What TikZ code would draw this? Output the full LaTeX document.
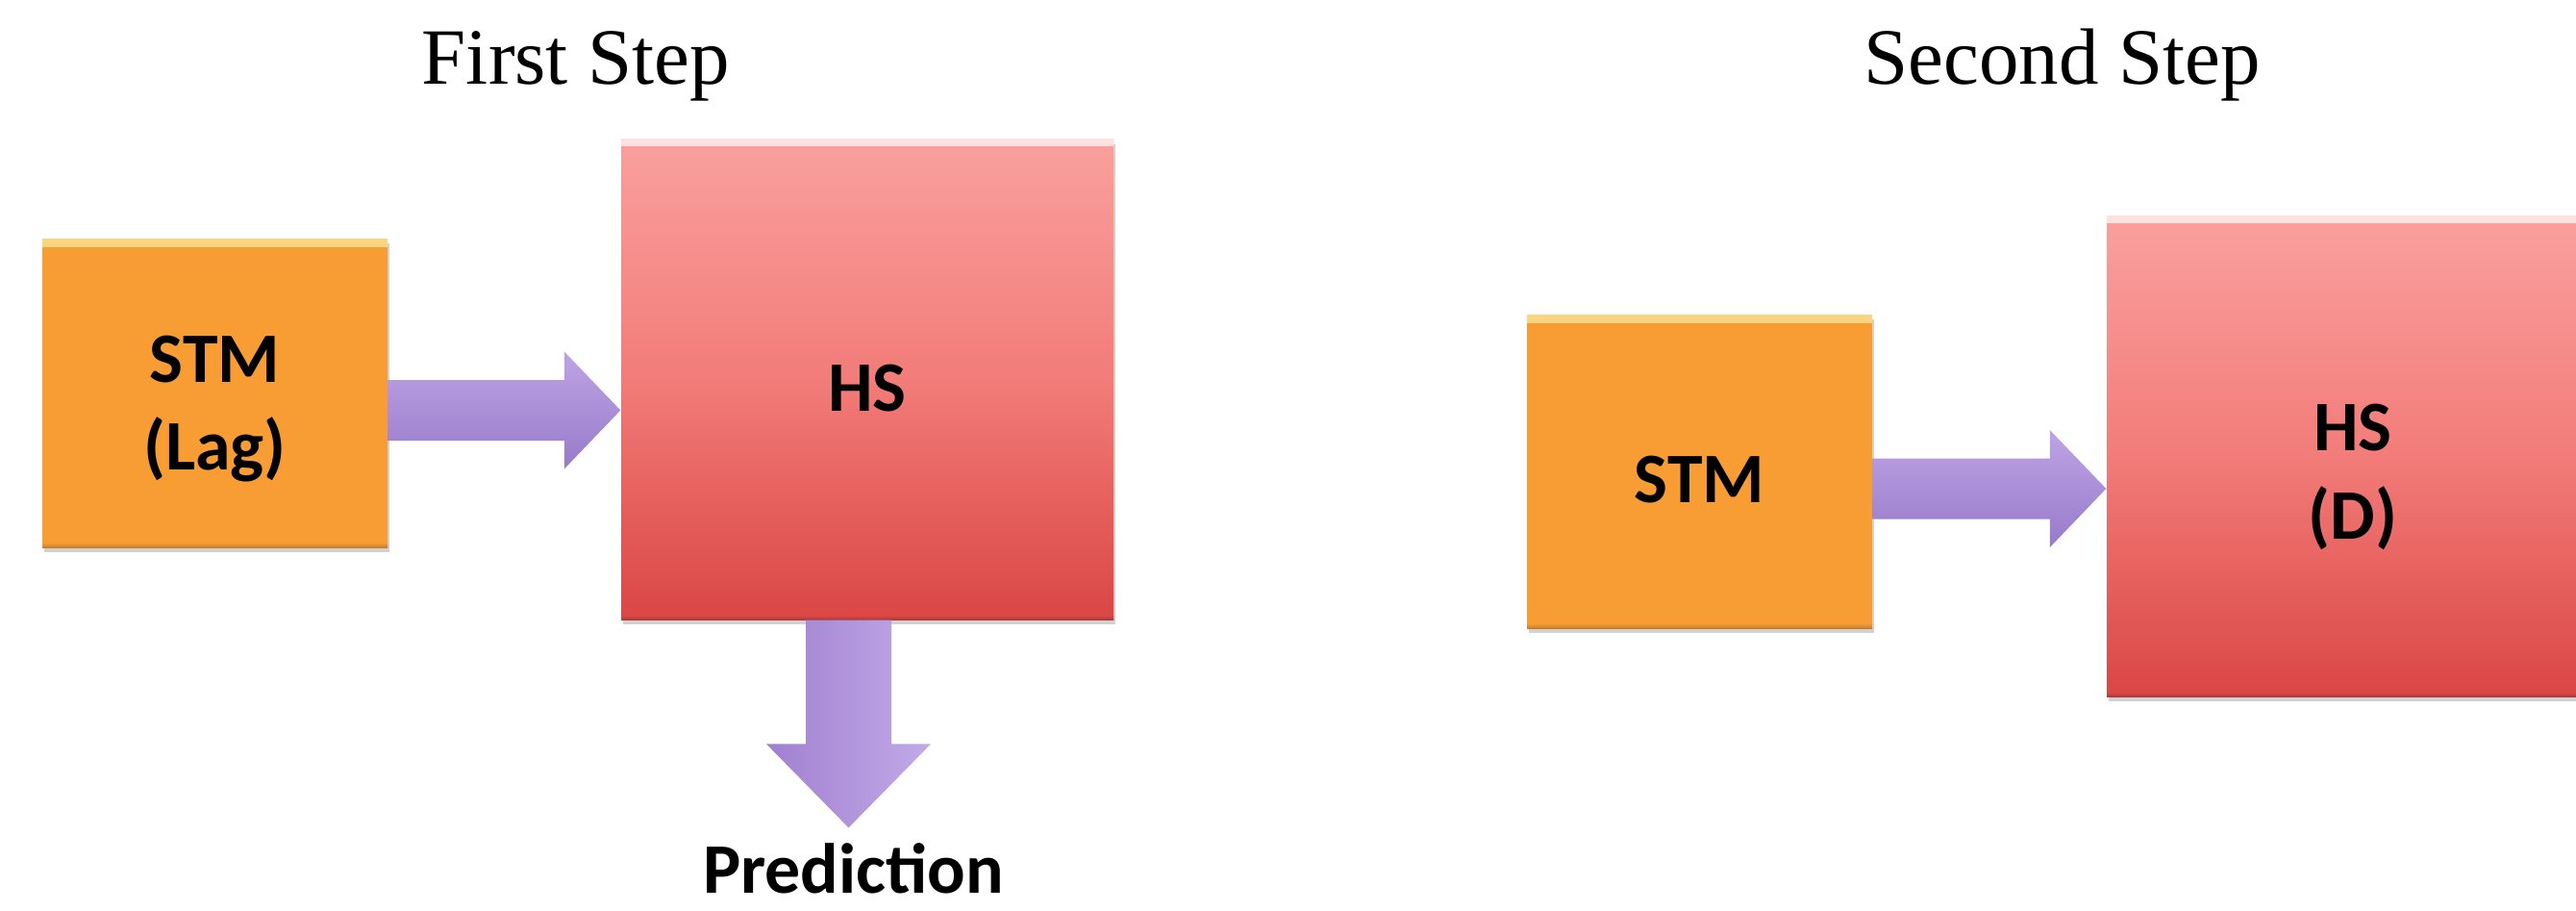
\documentclass[tikz,border=0pt]{standalone}
\usepackage{fontspec}
\setmainfont{Liberation Serif}
\newfontfamily\boxfont{Carlito}
\usetikzlibrary{calc,shadows}
\definecolor{stmorange}{RGB}{248,157,51}
\definecolor{stmhi}{RGB}{250,214,130}
\definecolor{stmdark}{RGB}{196,126,50}
\definecolor{hstop}{RGB}{250,160,158}
\definecolor{hshi}{RGB}{253,226,226}
\definecolor{hsmid}{RGB}{242,124,121}
\definecolor{hsbot}{RGB}{218,70,68}
\definecolor{hsdark}{RGB}{170,60,60}
\definecolor{arrtop}{RGB}{190,164,228}
\definecolor{arrbot}{RGB}{152,122,202}
\definecolor{arrleft}{RGB}{160,128,208}
\definecolor{arrright}{RGB}{194,170,232}
\tikzset{
  softshadow/.style={drop shadow={shadow xshift=0.02cm,shadow yshift=-0.05cm,opacity=0.18,fill=black}},
  stmbox/.style={rectangle, inner sep=0pt, fill=stmorange, softshadow,
    path picture={
      \shade[top color=stmhi, bottom color=stmorange] (path picture bounding box.north west) rectangle ([yshift=-0.08cm]path picture bounding box.north east);
      \shade[top color=stmorange, bottom color=stmdark] ([yshift=0.05cm]path picture bounding box.south west) rectangle (path picture bounding box.south east);
    }},
  hsbox/.style={rectangle, inner sep=0pt, top color=hstop, bottom color=hsbot, middle color=hsmid, softshadow,
    path picture={
      \shade[top color=hshi, bottom color=hstop] (path picture bounding box.north west) rectangle ([yshift=-0.07cm]path picture bounding box.north east);
      \shade[top color=hsbot, bottom color=hsdark] ([yshift=0.04cm]path picture bounding box.south west) rectangle (path picture bounding box.south east);
    }},
  boxtext/.style={font=\boxfont\bfseries\fontsize{21}{26}\selectfont, align=center, inner sep=0pt},
  titletext/.style={font=\fontsize{23.6}{28}\selectfont, inner sep=0pt},
  harrow/.style={top color=arrtop, bottom color=arrbot},
  varrow/.style={left color=arrleft, right color=arrright},
}
\begin{document}
\begin{tikzpicture}
\useasboundingbox (0,0) rectangle (26.79,-9.47);
\clip (0,0) rectangle (26.79,-9.47);
\fill[white] (0,0) rectangle (26.79,-9.47);

% titles
\node[titletext, anchor=base] (t1) at (5.99,-0.88) {First Step};
\node[titletext, anchor=base] (t2) at (21.445,-0.88) {Second Step};

% boxes
\node[stmbox, minimum width=3.59cm, minimum height=3.21cm] (stm1) at (2.235,-4.085) {};
\node[hsbox, minimum width=5.12cm, minimum height=4.99cm] (hs1) at (9.02,-3.945) {};
\node[stmbox, minimum width=3.59cm, minimum height=3.26cm] (stm2) at (17.675,-4.90) {};
\node[hsbox, minimum width=5.12cm, minimum height=4.99cm] (hs2) at (24.47,-4.745) {};

% box labels
\node[boxtext] (stm1t) at ($(stm1.center)+(0,-0.165)$) {STM\\(Lag)};
\node[boxtext] (hs1t) at ($(hs1.center)+(0,-0.095)$) {HS};
\node[boxtext] (stm2t) at ($(stm2.center)+(0,-0.085)$) {STM};
\node[boxtext] (hs2t) at ($(hs2.center)+(0,-0.215)$) {HS\\(D)};

\node[boxtext, anchor=base] (pred) at (8.875,-9.28) {Prediction};

% arrow STM(Lag) -> HS
\coordinate (a1s) at ($(stm1.east)+(0,-0.18)$);
\coordinate (a1e) at (hs1.west |- a1s);
\shade[harrow] ($(a1s)+(0,0.315)$) -- ($(a1e)+(-0.585,0.315)$) -- ($(a1e)+(-0.585,0.61)$) -- (a1e)
  -- ($(a1e)+(-0.585,-0.61)$) -- ($(a1e)+(-0.585,-0.315)$) -- ($(a1s)+(0,-0.315)$) -- cycle;

% arrow STM -> HS(D)
\coordinate (a2s) at ($(stm2.east)+(0,-0.18)$);
\coordinate (a2e) at (hs2.west |- a2s);
\shade[harrow] ($(a2s)+(0,0.315)$) -- ($(a2e)+(-0.585,0.315)$) -- ($(a2e)+(-0.585,0.61)$) -- (a2e)
  -- ($(a2e)+(-0.585,-0.61)$) -- ($(a2e)+(-0.585,-0.315)$) -- ($(a2s)+(0,-0.315)$) -- cycle;

% arrow HS -> Prediction
\coordinate (d1s) at ($(hs1.south)+(-0.195,0)$);
\coordinate (ptop) at ($(pred.north)+(0,0.15)$);
\coordinate (d1e) at (d1s |- ptop);
\shade[varrow] ($(d1s)+(-0.445,0)$) -- ($(d1e)+(-0.445,0.87)$) -- ($(d1e)+(-0.855,0.87)$) -- (d1e)
  -- ($(d1e)+(0.855,0.87)$) -- ($(d1e)+(0.445,0.87)$) -- ($(d1s)+(0.445,0)$) -- cycle;
\end{tikzpicture}
\end{document}
